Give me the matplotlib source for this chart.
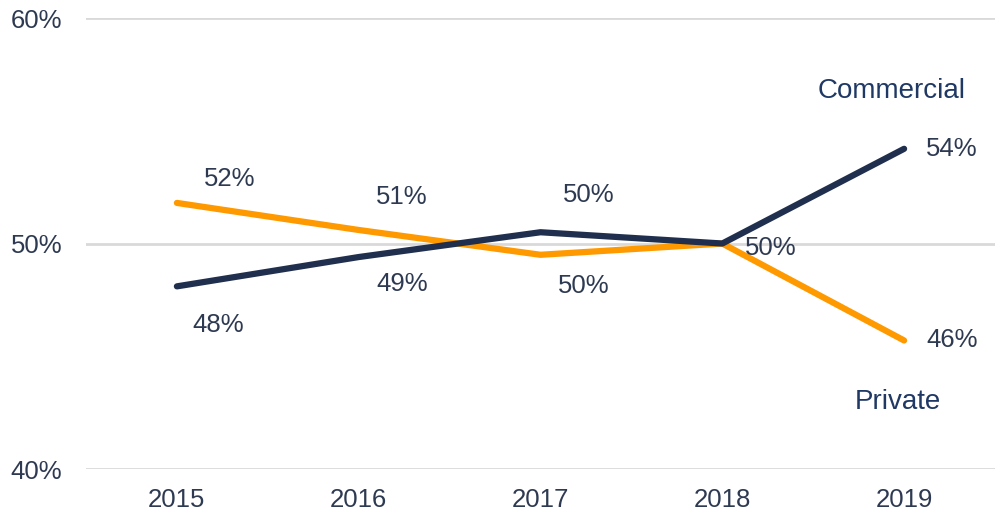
import matplotlib.pyplot as plt
from matplotlib.ticker import FuncFormatter

plt.rcParams['font.family'] = ['Liberation Sans', 'DejaVu Sans']

years = ['2015', '2016', '2017', '2018', '2019']
commercial = [48.1, 49.4, 50.5, 50.0, 54.2]
private = [51.8, 50.6, 49.5, 50.0, 45.7]
commercial_labels = ['48%', '49%', '50%', '50%', '54%']
private_labels = ['52%', '51%', '50%', '', '46%']

navy = '#1f2f4d'
orange = '#ff9900'
text_col = '#2e3a52'
name_col = '#1f3864'
fs = 18.5

fig = plt.figure(figsize=(10, 5.22), dpi=100)
ax = fig.add_axes([0.086, 0.1015, 0.909, 0.864])

x = list(range(len(years)))
ax.plot(x, private, color=orange, lw=4.5, solid_capstyle='round', solid_joinstyle='round', zorder=3)
ax.plot(x, commercial, color=navy, lw=4.5, solid_capstyle='round', solid_joinstyle='round', zorder=4)

ax.set_xlim(-0.5, 4.5)
ax.set_ylim(40, 60)
ax.set_yticks([40, 50, 60])
ax.yaxis.set_major_formatter(FuncFormatter(lambda v, p: f'{v:.0f}%'))
ax.set_xticks(x)
ax.set_xticklabels(years)
ax.grid(axis='y', color='#d9d9d9', lw=2)
ax.set_axisbelow(True)
for s in ax.spines.values():
    s.set_visible(False)
ax.tick_params(length=0, labelsize=fs, colors=text_col)
ax.tick_params(axis='y', pad=17)
ax.tick_params(axis='x', pad=14)

# data labels (offsets in pixels from each point)
com_off = [(41, -39), (43, -27), (48, 37), (48, -4), (48, 0)]
pri_off = [(53, 24), (43, 33), (43, -31), (0, 0), (48, 0)]
for i in x:
    ax.annotate(commercial_labels[i], (i, commercial[i]), xytext=com_off[i],
                textcoords='offset pixels', ha='center', va='center',
                fontsize=fs, color=text_col, zorder=5)
    if private_labels[i]:
        ax.annotate(private_labels[i], (i, private[i]), xytext=pri_off[i],
                    textcoords='offset pixels', ha='center', va='center',
                    fontsize=fs, color=text_col, zorder=5)

ax.annotate('Commercial', (4, commercial[4]), xytext=(-12, 58),
            textcoords='offset pixels', ha='center', va='center',
            fontsize=20, color=name_col)
ax.annotate('Private', (4, private[4]), xytext=(-6, -62),
            textcoords='offset pixels', ha='center', va='center',
            fontsize=20, color=name_col)

fig.savefig('out.png', dpi=100)
